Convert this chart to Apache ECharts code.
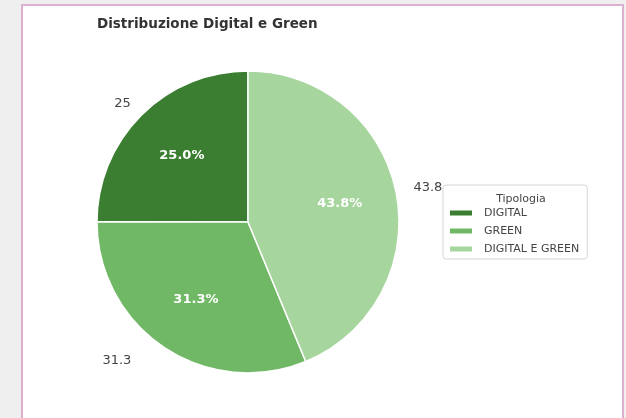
<!DOCTYPE html>
<html>
<head>
<meta charset="utf-8">
<script src="https://cdn.jsdelivr.net/npm/echarts@6/dist/echarts.min.js"></script>
<style>
  html, body { margin: 0; padding: 0; background: #efefef; }
  #frame {
    position: absolute; left: 21px; top: 4px; width: 603px; height: 420px;
    background: #ffffff; border: 2px solid #dcb1cf; box-sizing: border-box;
  }
  #chart { position: absolute; left: 0; top: 0; width: 626px; height: 418px; }
</style>
</head>
<body>
<div id="frame"></div>
<div id="chart"></div>
<script>
// Categories and shares (percent)
const categories = ['DIGITAL', 'GREEN', 'DIGITAL E GREEN'];
const values = [25, 31.3, 43.8];
const colors = ['#3b7e31', '#70b866', '#a6d59d'];

const chartTitle = 'Distribuzione Digital e Green';
const legendTitle = 'Tipologia';

// Small nudges for the outer value labels (left side right-aligned, right side left-aligned)
const outerLabelNudge = {
  'DIGITAL': [-6, 1],
  'GREEN': [-37, -2],
  'DIGITAL E GREEN': [14, -1]
};

const font = 'DejaVu Sans, sans-serif';
const total = values.reduce((a, b) => a + b, 0);
const pieCenter = [248, 222];
const pieRadius = 151;

const sliceData = categories.map((name, i) => ({
  name: name,
  value: values[i],
  itemStyle: { color: colors[i] }
}));

const outerData = categories.map((name, i) => ({
  name: name,
  value: values[i],
  label: { offset: outerLabelNudge[name] }
}));

const pctData = categories.map((name, i) => ({ name: name, value: values[i] }));

// Shared settings for the invisible label-carrying rings
const ghostRing = {
  type: 'pie',
  center: pieCenter,
  startAngle: 90,
  clockwise: false,
  silent: true,
  itemStyle: { color: 'rgba(0,0,0,0)' },
  labelLine: { show: false },
  emphasis: { disabled: true }
};

const chart = echarts.init(document.getElementById('chart'), null, { renderer: 'canvas' });
chart.setOption({
  backgroundColor: 'transparent',
  animation: false,
  title: [
    {
      text: chartTitle,
      left: 92, top: 12,
      textStyle: { fontFamily: font, fontSize: 13.5, fontWeight: 'bold', color: '#333' }
    },
    {
      text: legendTitle,
      left: 516, top: 189, textAlign: 'center',
      textStyle: { fontFamily: font, fontSize: 11, fontWeight: 'normal', color: '#444' }
    }
  ],
  legend: {
    orient: 'vertical',
    left: 443, top: 185,
    data: categories,
    icon: 'rect',
    itemWidth: 24, itemHeight: 7,
    itemGap: 6,
    padding: [22, 8, 4, 5],
    backgroundColor: '#ffffff',
    borderColor: '#d6d6d6',
    borderWidth: 1,
    borderRadius: 3,
    selectedMode: false,
    textStyle: { fontFamily: font, fontSize: 11, color: '#444', lineHeight: 12, padding: [0, 0, 0, 6] }
  },
  series: [
    {
      type: 'pie',
      center: pieCenter,
      radius: [0, pieRadius],
      startAngle: 90,
      clockwise: false,
      silent: true,
      data: sliceData,
      itemStyle: { borderColor: '#ffffff', borderWidth: 1.5 },
      label: { show: false },
      labelLine: { show: false },
      emphasis: { disabled: true }
    },
    Object.assign({}, ghostRing, {
      // percentages sit at 0.6 of the radius
      radius: [0, pieRadius * 1.2],
      data: pctData,
      label: {
        show: true,
        position: 'inside',
        fontFamily: font,
        fontSize: 13,
        fontWeight: 'bold',
        color: '#ffffff',
        formatter: p => (p.value / total * 100).toFixed(1) + '%'
      }
    }),
    Object.assign({}, ghostRing, {
      // raw values just outside the rim
      radius: [pieRadius, pieRadius * 1.2],
      data: outerData,
      label: {
        show: true,
        position: 'inside',
        fontFamily: font,
        fontSize: 13,
        color: '#444',
        formatter: p => String(p.value)
      }
    })
  ]
});
</script>
</body>
</html>
